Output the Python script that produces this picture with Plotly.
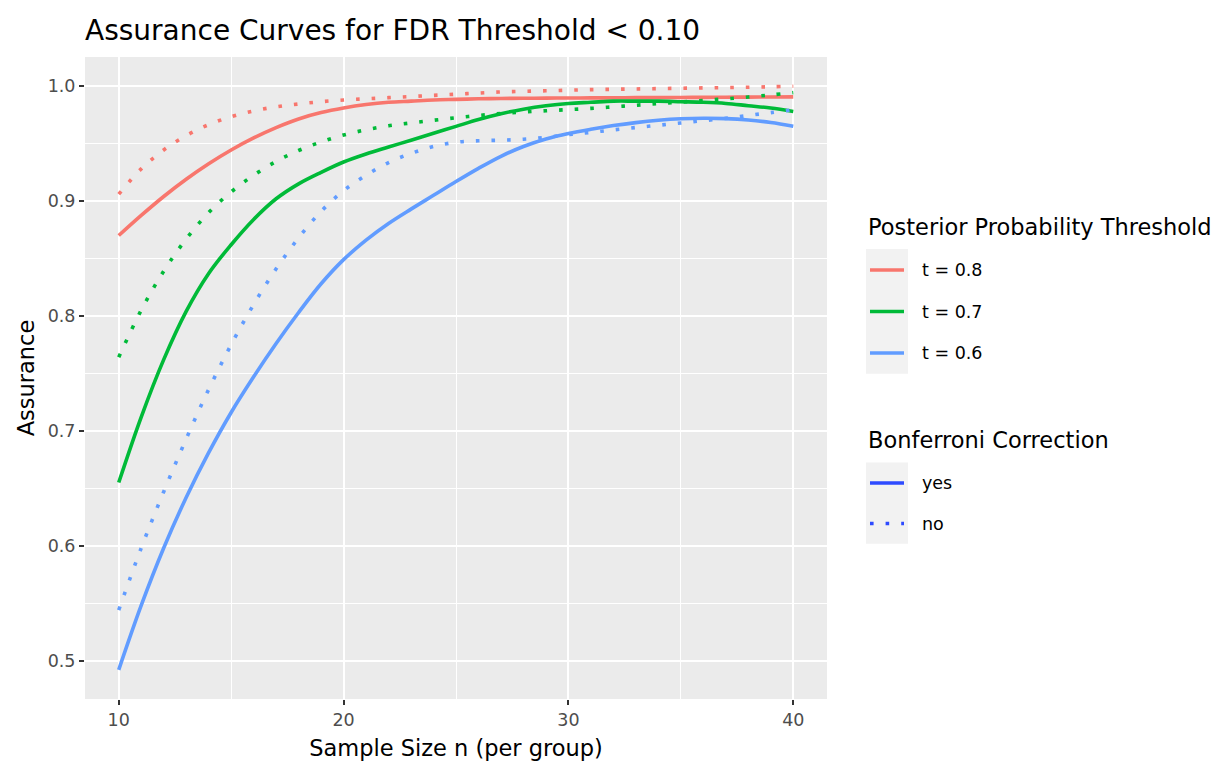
import plotly.graph_objects as go

# ---------------- data ----------------
sample_size = list(range(10, 41))

# t = 0.8
t08_bonf_yes = [0.870, 0.8875, 0.904, 0.919, 0.9325, 0.9445, 0.955, 0.964, 0.9715, 0.977,
                0.981, 0.984, 0.986, 0.987, 0.988, 0.9885, 0.989, 0.9893, 0.9895, 0.9896,
                0.9897, 0.9898, 0.9899, 0.990, 0.9901, 0.9902, 0.9903, 0.9904, 0.9905, 0.9906, 0.9907]
t08_bonf_no = [0.906, 0.928, 0.9445, 0.957, 0.9665, 0.9735, 0.9785, 0.982, 0.9845, 0.9865,
               0.988, 0.989, 0.990, 0.991, 0.992, 0.993, 0.994, 0.995, 0.9955, 0.996,
               0.9965, 0.997, 0.9973, 0.9976, 0.9979, 0.9982, 0.9985, 0.9988, 0.9991, 0.9995, 1.000]
# t = 0.7
t07_bonf_yes = [0.655, 0.712, 0.762, 0.804, 0.837, 0.862, 0.884, 0.902, 0.915, 0.925,
                0.934, 0.941, 0.947, 0.953, 0.959, 0.965, 0.971, 0.976, 0.980, 0.983,
                0.985, 0.986, 0.987, 0.987, 0.987, 0.9865, 0.986, 0.985, 0.983, 0.981, 0.978]
t07_bonf_no = [0.764, 0.805, 0.839, 0.867, 0.890, 0.908, 0.9225, 0.9345, 0.944, 0.9515,
               0.9575, 0.962, 0.9655, 0.968, 0.9703, 0.9725, 0.9745, 0.9762, 0.9775, 0.9786,
               0.9796, 0.9807, 0.982, 0.9834, 0.9848, 0.9862, 0.9876, 0.989, 0.9906, 0.9924, 0.9944]
# t = 0.6
t06_bonf_yes = [0.492, 0.548, 0.598, 0.642, 0.681, 0.716, 0.747, 0.776, 0.803, 0.828,
                0.849, 0.866, 0.8805, 0.893, 0.905, 0.917, 0.9285, 0.939, 0.9475, 0.954,
                0.9588, 0.9625, 0.9657, 0.9683, 0.9703, 0.9716, 0.9721, 0.9718, 0.9706, 0.9684, 0.9652]
t06_bonf_no = [0.544, 0.598, 0.647, 0.693, 0.736, 0.775, 0.810, 0.841, 0.868, 0.891,
               0.909, 0.9225, 0.9335, 0.9415, 0.9475, 0.9512, 0.9525, 0.953, 0.9538, 0.9555,
               0.9578, 0.9598, 0.962, 0.964, 0.966, 0.968, 0.970, 0.972, 0.9745, 0.977, 0.9795]

threshold_labels = ["t = 0.8", "t = 0.7", "t = 0.6"]
threshold_colors = ["#F8766D", "#00BA38", "#619CFF"]
bonferroni_labels = ["yes", "no"]
x_ticks = [10, 20, 30, 40]
y_ticks = [0.5, 0.6, 0.7, 0.8, 0.9, 1.0]
y_tick_text = ["0.5", "0.6", "0.7", "0.8", "0.9", "1.0"]

series = {
    "t = 0.8": (t08_bonf_yes, t08_bonf_no),
    "t = 0.7": (t07_bonf_yes, t07_bonf_no),
    "t = 0.6": (t06_bonf_yes, t06_bonf_no),
}

# ---------------- style ----------------
FONT = "DejaVu Sans"
W, H = 1225, 763
L, R, T, B = 85, 398, 57, 64
PW, PH = W - L - R, H - T - B
LW = 3.6
DOT = "3.6px,12px"
BONF_COLOR = "#2E4BFF"


def px2x(px):
    return (px - L) / PW


def px2y(py):
    return (H - B - py) / PH


fig = go.Figure()

for lab, col in zip(threshold_labels, threshold_colors):
    yes_vals, no_vals = series[lab]
    fig.add_trace(go.Scatter(x=sample_size, y=no_vals, mode="lines", name=lab + " (no)",
                             line=dict(color=col, width=LW, dash=DOT, shape="spline"),
                             showlegend=False, hoverinfo="x+y+name"))
    fig.add_trace(go.Scatter(x=sample_size, y=yes_vals, mode="lines", name=lab + " (yes)",
                             line=dict(color=col, width=LW, shape="spline"),
                             showlegend=False, hoverinfo="x+y+name"))

# ---------------- legend (drawn manually, ggplot style) ----------------
shapes = []
annotations = []
LEG_X = 866
KEY_W = 42


def legend_block(title, title_y, box_top, item_ys, labels, colors, dashes):
    annotations.append(dict(text=title, xref="paper", yref="paper", x=px2x(LEG_X), y=px2y(title_y),
                            xanchor="left", yanchor="middle", showarrow=False,
                            font=dict(family=FONT, size=22.5, color="black")))
    box_bottom = item_ys[-1] + (item_ys[1] - item_ys[0]) / 2
    shapes.append(dict(type="rect", xref="paper", yref="paper", x0=px2x(LEG_X), x1=px2x(LEG_X + KEY_W),
                       y0=px2y(box_top), y1=px2y(box_bottom), fillcolor="#F2F2F2", line=dict(width=0),
                       layer="below"))
    for yy, lab, c, d in zip(item_ys, labels, colors, dashes):
        shapes.append(dict(type="line", xref="paper", yref="paper", x0=px2x(LEG_X + 4), x1=px2x(LEG_X + 38),
                           y0=px2y(yy), y1=px2y(yy), line=dict(color=c, width=LW, dash=d)))
        annotations.append(dict(text=lab, xref="paper", yref="paper", x=px2x(920), y=px2y(yy),
                                xanchor="left", yanchor="middle", showarrow=False,
                                font=dict(family=FONT, size=17.5, color="black")))


legend_block("Posterior Probability Threshold", 227, 249, [270, 311.5, 353],
             threshold_labels, threshold_colors, ["solid"] * 3)
legend_block("Bonferroni Correction", 440, 462.5, [483, 523.5],
             bonferroni_labels, [BONF_COLOR, BONF_COLOR], ["solid", DOT])

fig.update_layout(
    width=W, height=H,
    margin=dict(l=L, r=R, t=T, b=B),
    paper_bgcolor="white",
    plot_bgcolor="#EBEBEB",
    font=dict(family=FONT, color="black"),
    title=dict(text="Assurance Curves for FDR Threshold < 0.10", xref="paper", x=0, xanchor="left",
               yref="container", y=1 - 30 / H, yanchor="middle",
               font=dict(family=FONT, size=28, color="black")),
    showlegend=False,
    shapes=shapes,
    annotations=annotations,
    xaxis=dict(range=[8.5, 41.5], tickvals=x_ticks, ticktext=[str(v) for v in x_ticks],
               automargin=False,
               showgrid=True, gridcolor="white", gridwidth=2, zeroline=False, showline=False,
               ticks="outside", ticklen=5, tickwidth=2, tickcolor="#333333",
               tickfont=dict(family=FONT, size=17.5, color="#4D4D4D"),
               minor=dict(tickvals=[15, 25, 35], showgrid=True, gridcolor="white", gridwidth=1),
               title=dict(text="Sample Size n (per group)", standoff=11,
                          font=dict(family=FONT, size=22.5, color="black"))),
    yaxis=dict(range=[0.4666, 1.0254], tickvals=y_ticks, ticktext=y_tick_text,
               automargin=False,
               showgrid=True, gridcolor="white", gridwidth=2, zeroline=False, showline=False,
               ticks="outside", ticklen=5, tickwidth=2, tickcolor="#333333",
               tickfont=dict(family=FONT, size=17.5, color="#4D4D4D"),
               minor=dict(tickvals=[0.55, 0.65, 0.75, 0.85, 0.95], showgrid=True,
                          gridcolor="white", gridwidth=1),
               title=dict(text="Assurance", standoff=6,
                          font=dict(family=FONT, size=22.5, color="black"))),
)

fig.write_html("out.html")
